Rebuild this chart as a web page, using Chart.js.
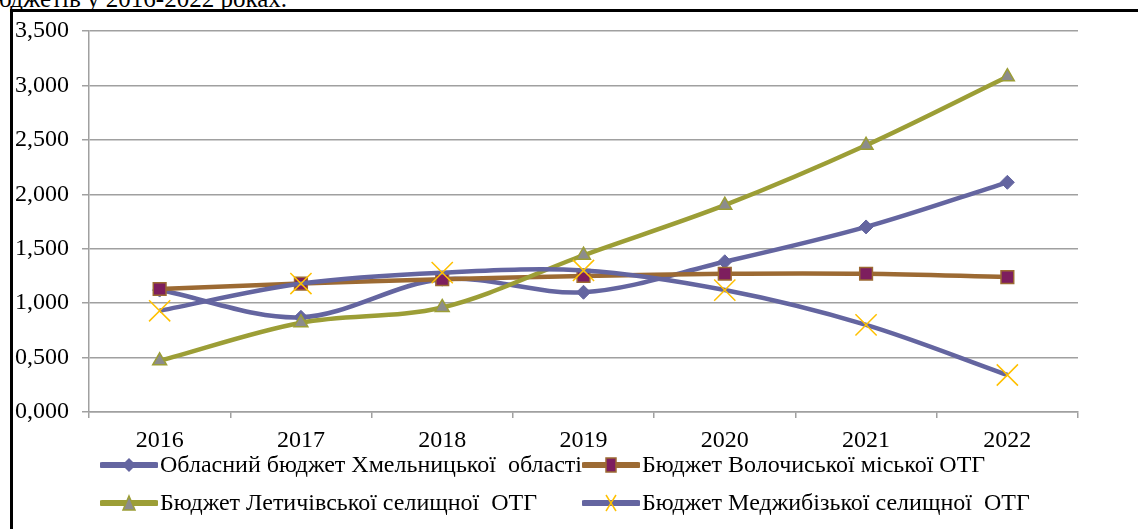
<!DOCTYPE html>
<html>
<head>
<meta charset="utf-8">
<script src="https://cdn.jsdelivr.net/npm/chart.js@4.4.1/dist/chart.umd.min.js"></script>
<style>
  html, body { margin: 0; padding: 0; background: #fff; }
  #wrap { position: relative; width: 1138px; height: 529px; overflow: hidden; font-family: 'Liberation Serif', 'Times New Roman', serif; }
  #frame { position: absolute; left: 10px; top: 9px; width: 1200px; height: 600px; border: 3px solid #000; box-sizing: border-box; }
  #caption { position: absolute; right: 851px; top: -14px; font-size: 25px; line-height: 25px; white-space: nowrap; color: #000; }
  #chart { position: absolute; left: 0; top: 0; }
  .lg { position: absolute; display: flex; align-items: center; font-size: 24px; white-space: pre; color: #000; }
  .lg svg { margin-right: 2px; }
</style>
</head>
<body>
<div id="wrap">
  <div id="caption">Динаміка доходів бюджетів у 2016-2022 роках.</div>
  <div id="frame"></div>
  <canvas id="chart" width="1138" height="529"></canvas>
  <div id="legend"></div>
</div>
<script>
// Values
const years = ['2016', '2017', '2018', '2019', '2020', '2021', '2022'];
const seriesNames = [
    'Обласний бюджет Хмельницької  області',
    'Бюджет Волочиської міської ОТГ',
    'Бюджет Летичівської селищної  ОТГ',
    'Бюджет Меджибізької селищної  ОТГ'
];
const oblasnyi   = [1.12, 0.87, 1.22, 1.10, 1.38, 1.70, 2.11];
const volochysk  = [1.13, 1.18, 1.22, 1.25, 1.27, 1.27, 1.24];
const letychiv   = [0.47, 0.82, 0.96, 1.44, 1.90, 2.45, 3.08];
const medzhybizh = [0.93, 1.18, 1.28, 1.30, 1.12, 0.80, 0.34];
const yTicks = [0, 0.5, 1.0, 1.5, 2.0, 2.5, 3.0, 3.5];

const FONT = "'Liberation Serif', 'Times New Roman', serif";
const PURPLE = '#6465a0';
const BROWN = '#9c6a33';
const MAROON = '#7d1e5e';
const OLIVE = '#9c9e36';
const GREY = '#8c8c8c';
const GOLD = '#ffc000';

const styles = [
    { line: PURPLE, marker: 'rectRot', fill: PURPLE, border: PURPLE, r: 7, bw: 1 },
    { line: BROWN, marker: 'rect', fill: MAROON, border: BROWN, r: 9, bw: 1.5 },
    { line: OLIVE, marker: 'triangle', fill: GREY, border: OLIVE, r: 8, bw: 1.5 },
    { line: PURPLE, marker: 'crossRot', fill: GOLD, border: GOLD, r: 15, bw: 1.5 }
];
const seriesData = [oblasnyi, volochysk, letychiv, medzhybizh];

function fmt(v) {
    return v.toFixed(3).replace('.', ',');
}

function makeDataset(i) {
    const s = styles[i];
    return {
        label: seriesNames[i],
        data: seriesData[i],
        borderColor: s.line,
        borderWidth: 4.5,
        tension: 0.33,
        pointStyle: s.marker,
        pointRadius: s.r,
        pointBackgroundColor: s.fill,
        pointBorderColor: s.border,
        pointBorderWidth: s.bw,
        order: 3 - i
    };
}

const ctx = document.getElementById('chart').getContext('2d');
new Chart(ctx, {
    type: 'line',
    data: {
        labels: years,
        datasets: [0, 1, 2, 3].map(makeDataset)
    },
    options: {
        responsive: false,
        animation: false,
        layout: { padding: { left: 12, top: 31, right: 60, bottom: 77 } },
        plugins: { legend: { display: false }, tooltip: { enabled: false } },
        scales: {
            x: {
                offset: true,
                grid: { offset: true, drawOnChartArea: false, drawTicks: true, tickLength: 6, color: '#a0a0a0', lineWidth: 1.5 },
                border: { color: '#a0a0a0', width: 1.5 },
                ticks: { color: '#000', font: { family: FONT, size: 24 }, padding: 8, maxRotation: 0 },
                afterFit: (scale) => { scale.height = 40; }
            },
            y: {
                min: 0,
                max: 3.5,
                afterBuildTicks: (scale) => { scale.ticks = yTicks.map(v => ({ value: v })); },
                grid: { color: '#a0a0a0', lineWidth: 1.5, tickLength: 7 },
                border: { color: '#a0a0a0', width: 1.5 },
                ticks: { color: '#000', font: { family: FONT, size: 24 }, padding: 13, callback: (v) => fmt(v) },
                afterFit: (scale) => { scale.width = 77; }
            }
        }
    }
});

// HTML legend, two columns like the original
function markerSvg(s) {
    const cx = 29, cy = 9;
    let m = '';
    if (s.marker === 'rectRot') {
        m = `<polygon points="${cx},${cy - 7} ${cx + 7},${cy} ${cx},${cy + 7} ${cx - 7},${cy}" fill="${s.fill}"/>`;
    } else if (s.marker === 'rect') {
        m = `<rect x="${cx - 5}" y="${cy - 7}" width="10" height="14" fill="${s.fill}" stroke="${s.border}" stroke-width="1.5"/>`;
    } else if (s.marker === 'triangle') {
        m = `<polygon points="${cx},${cy - 7} ${cx + 6},${cy + 7} ${cx - 6},${cy + 7}" fill="${s.fill}" stroke="${s.border}" stroke-width="1.5"/>`;
    } else {
        m = `<line x1="${cx - 5}" y1="${cy - 8}" x2="${cx + 5}" y2="${cy + 8}" stroke="${s.fill}" stroke-width="1.5"/>` +
            `<line x1="${cx + 5}" y1="${cy - 8}" x2="${cx - 5}" y2="${cy + 8}" stroke="${s.fill}" stroke-width="1.5"/>`;
    }
    return `<svg width="58" height="18"><line x1="2" y1="${cy}" x2="56" y2="${cy}" stroke="${s.line}" stroke-width="6" stroke-linecap="round"/>${m}</svg>`;
}

const legendPos = [[100, 465], [582, 465], [100, 503], [582, 503]];
const legend = document.getElementById('legend');
seriesNames.forEach((name, i) => {
    const item = document.createElement('div');
    item.className = 'lg';
    item.style.left = legendPos[i][0] + 'px';
    item.style.top = (legendPos[i][1] - 14) + 'px';
    item.innerHTML = markerSvg(styles[i]) + '<span>' + name + '</span>';
    legend.appendChild(item);
});
</script>
</body>
</html>
